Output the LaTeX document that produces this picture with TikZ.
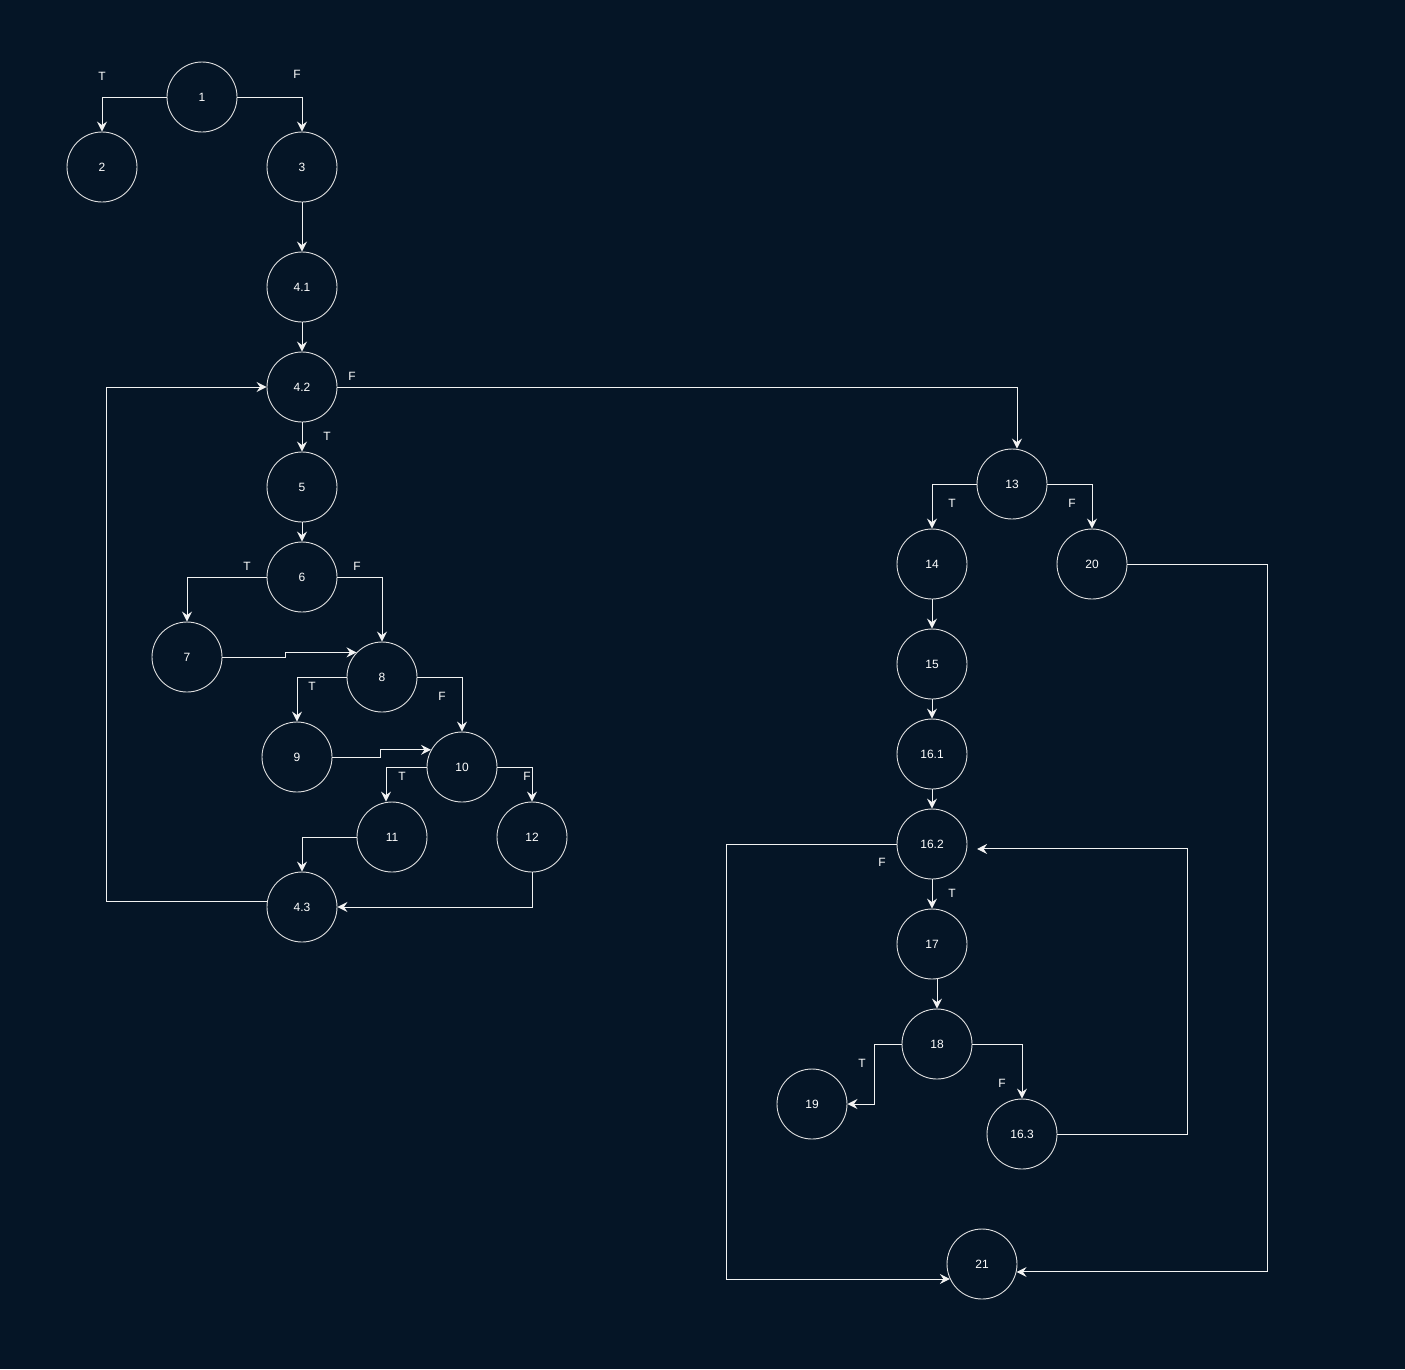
\documentclass[tikz,border=0pt]{standalone}
\usepackage{fontspec}
\setmainfont{Liberation Sans}
\usetikzlibrary{arrows.meta}
\definecolor{bg}{HTML}{051526}
\definecolor{ln}{HTML}{F2F2F2}
\begin{document}
\begin{tikzpicture}[x=1pt,y=-1pt,
  vtx/.style={circle,draw=ln!92!black,line width=0.9pt,minimum size=70pt,inner sep=0pt,text=white,font=\fontsize{12}{14}\selectfont},
  lbl/.style={text=white,font=\fontsize{12}{14}\selectfont,inner sep=0pt},
  edge/.style={draw=ln,line width=1pt,-{Stealth[length=10pt,width=10pt,inset=3.5pt]}},
  ]
\fill[bg] (0,0) rectangle (1405,1369);
\useasboundingbox (0,0) rectangle (1405,1369);
% nodes
\node[vtx] (n1) at (202,97) {1};
\node[vtx] (n2) at (102,167) {2};
\node[vtx] (n3) at (302,167) {3};
\node[vtx] (n41) at (302,287) {4.1};
\node[vtx] (n42) at (302,387) {4.2};
\node[vtx] (n5) at (302,487) {5};
\node[vtx] (n6) at (302,577) {6};
\node[vtx] (n7) at (187,657) {7};
\node[vtx] (n8) at (382,677) {8};
\node[vtx] (n9) at (297,757) {9};
\node[vtx] (n10) at (462,767) {10};
\node[vtx] (n11) at (392,837) {11};
\node[vtx] (n12) at (532,837) {12};
\node[vtx] (n43) at (302,907) {4.3};
\node[vtx] (n13) at (1012,484) {13};
\node[vtx] (n14) at (932,564) {14};
\node[vtx] (n20) at (1092,564) {20};
\node[vtx] (n15) at (932,664) {15};
\node[vtx] (n161) at (932,754) {16.1};
\node[vtx] (n162) at (932,844) {16.2};
\node[vtx] (n17) at (932,944) {17};
\node[vtx] (n18) at (937,1044) {18};
\node[vtx] (n19) at (812,1104) {19};
\node[vtx] (n163) at (1022,1134) {16.3};
\node[vtx] (n21) at (982,1264) {21};
% edges
\draw[edge] (n1.west) -| (n2.north);
\draw[edge] (n1.east) -| (n3.north);
\draw[edge] (n3) -- (n41);
\draw[edge] (n41) -- (n42);
\draw[edge] (n42.east) -| ([xshift=5pt]n13.north);
\draw[edge] (n42) -- (n5);
\draw[edge] (n5) -- (n6);
\draw[edge] (n6.west) -| (n7.north);
\draw[edge] (n6.east) -| (n8.north);
\draw[edge] (n7.east) -- ++(63,0) |- (n8.136.7);
\draw[edge] (n8.west) -| (n9.north);
\draw[edge] (n8.east) -| (n10.north);
\draw[edge] (n9.east) -- ++(48,0) |- (n10.151);
\draw[edge] (n10.west) -| ([xshift=-6pt]n11.north);
\draw[edge] (n10.east) -| (n12.north);
\draw[edge] (n11.west) -| (n43.north);
\draw[edge] (n12.south) |- (n43.east);
\draw[edge] (n43.171.8) -- ++(-160,0) |- (n42.west);
\draw[edge] (n13.west) -| (n14.north);
\draw[edge] (n13.east) -| (n20.north);
\draw[edge] (n14) -- (n15);
\draw[edge] (n15) -- (n161);
\draw[edge] (n161) -- (n162);
\draw[edge] (n162) -- (n17);
\draw[edge] (n162.west) -- ++(-170,0) |- (n21.205.4);
\draw[edge] (n20.east) -- ++(140,0) |- (n21.-13.2);
\draw[edge] ([xshift=5pt]n17.south) -- (n18.north);
\draw[edge] (n18.west) -- ++(-27,0) |- (n19.east);
\draw[edge] (n18.east) -| (n163.north);
\draw[edge] (n163.east) -- ++(130,0) |- ([xshift=10pt]n162.-8.2);
% labels
\node[lbl] (t1) at (102,76) {T};
\node[lbl] (f1) at (297,74) {F};
\node[lbl] (f42) at (352,376) {F};
\node[lbl] (t42) at (327,436) {T};
\node[lbl] (t6) at (247,566) {T};
\node[lbl] (f6) at (357,566) {F};
\node[lbl] (t8) at (312,686) {T};
\node[lbl] (f8) at (442,696) {F};
\node[lbl] (t10) at (402,776) {T};
\node[lbl] (f10) at (527,776) {F};
\node[lbl] (t13) at (952,503) {T};
\node[lbl] (f13) at (1072,503) {F};
\node[lbl] (f162) at (882,862) {F};
\node[lbl] (t162) at (952,893) {T};
\node[lbl] (t18) at (862,1063) {T};
\node[lbl] (f18) at (1002,1083) {F};
\end{tikzpicture}
\end{document}
